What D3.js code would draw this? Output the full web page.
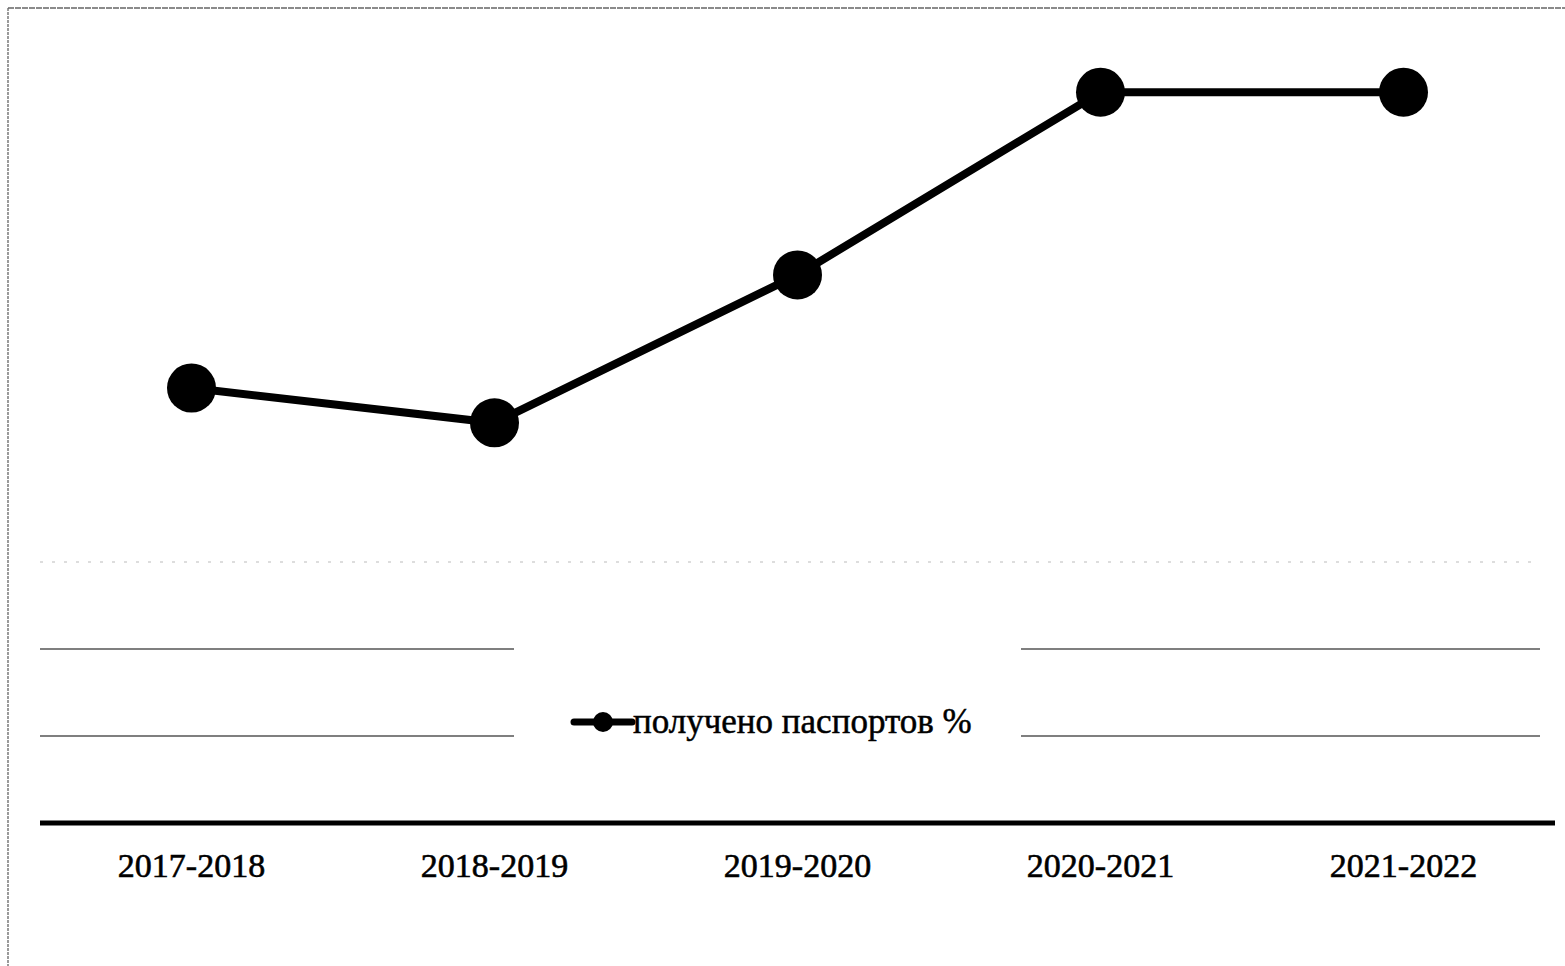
<!DOCTYPE html>
<html>
<head>
<meta charset="utf-8">
<script src="https://cdn.jsdelivr.net/npm/d3@7"></script>
<style>
  body { margin: 0; background: #fff; }
  svg { display: block; }
</style>
</head>
<body>
<div class="chart"></div>
<script>
var years = ["2017-2018", "2018-2019", "2019-2020", "2020-2021", "2021-2022"];
var passports = [50, 46, 63, 84, 84];
var gridValues = [10, 20, 30];
var seriesName = "получено паспортов %";

var width = 1565, height = 966;
var svg = d3.select(".chart").append("svg")
    .attr("width", width)
    .attr("height", height);

// scanned page frame
svg.append("line").attr("x1", 8).attr("y1", 8).attr("x2", width).attr("y2", 8)
    .attr("stroke", "#666").attr("stroke-width", 1.3).attr("stroke-dasharray", "6 1");
svg.append("line").attr("x1", 8).attr("y1", 8).attr("x2", 8).attr("y2", height)
    .attr("stroke", "#666").attr("stroke-width", 1.3).attr("stroke-dasharray", "3 1");

var x = d3.scaleBand().domain(years).range([40, 1555]).padding(0);
var y = d3.scaleLinear().domain([0, 10]).range([823, 736]);
var cx = function (d) { return x(d) + x.bandwidth() / 2; };

/*
    Gridlines
*/
var grid = svg.append("g").attr("class", "grid");
grid.selectAll("line").data(gridValues).enter().append("line")
    .attr("x1", 40)
    .attr("x2", 1540)
    .attr("y1", function (d) { return y(d); })
    .attr("y2", function (d) { return y(d); })
    .attr("stroke", function (d) { return d == 30 ? "#bbb" : "#555"; })
    .attr("stroke-width", function (d) { return d == 30 ? 1 : 1.4; })
    .attr("stroke-dasharray", function (d) { return d == 30 ? "3 9" : null; });

/*
    Axis
*/
var serif = "'Liberation Serif', 'Times New Roman', serif";
var xAxis = svg.append("g")
    .attr("transform", "translate(0," + y(0) + ")")
    .call(d3.axisBottom(x).tickSize(0).tickPadding(30));
xAxis.select(".domain")
    .attr("stroke", "#000")
    .attr("stroke-width", 5)
    .attr("d", "M40,0H1555");
xAxis.selectAll("text")
    .attr("font-family", serif)
    .attr("font-size", 34)
    .attr("fill", "#000")
    .attr("stroke", "#000")
    .attr("stroke-width", 0.6);

/*
    Legend (white box hides grid behind it)
*/
var legend = svg.append("g");
legend.append("rect")
    .attr("x", 514).attr("y", 630)
    .attr("width", 507).attr("height", 115)
    .attr("fill", "#fff");
legend.append("line")
    .attr("x1", 574).attr("x2", 632)
    .attr("y1", 722).attr("y2", 722)
    .attr("stroke", "#000").attr("stroke-width", 7).attr("stroke-linecap", "round");
legend.append("circle")
    .attr("cx", 603).attr("cy", 722).attr("r", 10).attr("fill", "#000");
legend.append("text")
    .attr("x", 633).attr("y", 733)
    .attr("font-family", serif)
    .attr("font-size", 35)
    .attr("fill", "#000")
    .attr("stroke", "#000")
    .attr("stroke-width", 0.5)
    .text(seriesName);

/*
    Series
*/
var line = d3.line()
    .x(function (d, i) { return cx(years[i]); })
    .y(function (d) { return y(d); });
svg.append("path")
    .datum(passports)
    .attr("fill", "none")
    .attr("stroke", "#000")
    .attr("stroke-width", 8)
    .attr("d", line);
svg.selectAll("circle.pt").data(passports).enter().append("circle")
    .attr("class", "pt")
    .attr("cx", function (d, i) { return cx(years[i]); })
    .attr("cy", function (d) { return y(d); })
    .attr("r", 24.5)
    .attr("fill", "#000");
</script>
</body>
</html>
